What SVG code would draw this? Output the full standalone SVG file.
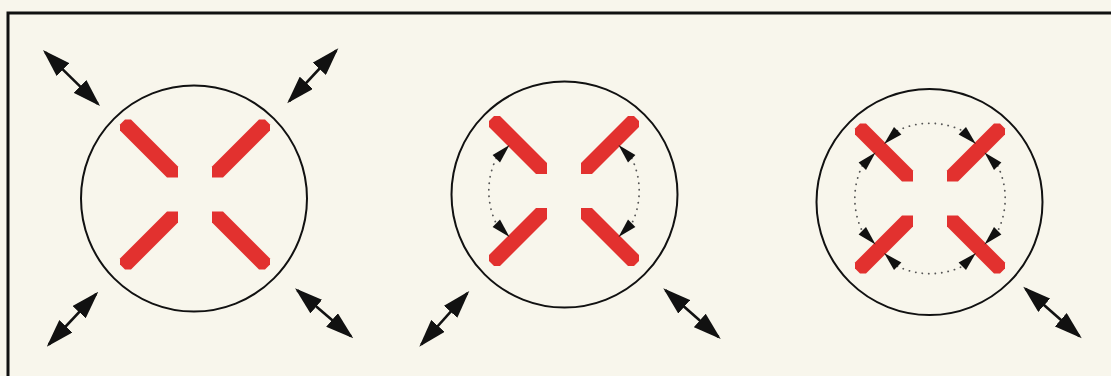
<svg xmlns="http://www.w3.org/2000/svg" width="1111" height="376" viewBox="0 0 1111 376">
<defs>
<style>
.ring{fill:none;stroke:#111;stroke-width:2}
.bars{fill:#e2312f}
.wedges{fill:#111}
.dots{fill:none;stroke:#555;stroke-width:1.8;stroke-linecap:round;stroke-dasharray:0.1 6.4}
.shaft{stroke:#111;stroke-width:2.6;fill:none;marker-start:url(#head);marker-end:url(#head)}
</style>
<marker id="head" viewBox="0 0 28 18" refX="25" refY="9" markerWidth="28" markerHeight="18" markerUnits="userSpaceOnUse" orient="auto-start-reverse"><path d="M0,0 L28,9 L0,18 Z" fill="#111"/></marker>
<polygon id="bar" points="-75,-64 -75,-70 -70,-75 -64,-75 -17,-28 -17,-17 -28,-17"/>
<polygon id="wA" points="-54.5,-45.9 -71.4,-36 -64,-28.6"/>
<polygon id="wB" points="-45.9,-54.5 -36,-71.4 -28.6,-64"/>
<g id="cross" class="bars">
<use href="#bar"/><use href="#bar" transform="scale(-1,1)"/><use href="#bar" transform="scale(1,-1)"/><use href="#bar" transform="scale(-1,-1)"/>
</g>
<g id="wedgesA" class="wedges">
<use href="#wA"/><use href="#wA" transform="scale(-1,1)"/><use href="#wA" transform="scale(1,-1)"/><use href="#wA" transform="scale(-1,-1)"/>
</g>
<g id="wedgesB" class="wedges">
<use href="#wB"/><use href="#wB" transform="scale(-1,1)"/><use href="#wB" transform="scale(1,-1)"/><use href="#wB" transform="scale(-1,-1)"/>
</g>
</defs>
<rect x="0" y="0" width="1111" height="376" fill="#f8f6ec"/>
<path d="M8,376 V13 H1111" fill="none" stroke="#111" stroke-width="3"/>

<g id="stage1">
<circle class="ring" cx="194" cy="198.5" r="113"/>
<g transform="translate(195,194.5)"><use href="#cross"/></g>
</g>

<g id="stage2">
<circle class="ring" cx="564.5" cy="194.5" r="113"/>
<g transform="translate(564,191)">
<path class="dots" d="M-67.7,-32.7 A75.2,75.2 0 0 0 -67.7,32.7 M67.7,-32.7 A75.2,75.2 0 0 1 67.7,32.7"/>
<use href="#cross"/>
<use href="#wedgesA"/>
</g>
</g>

<g id="stage3">
<circle class="ring" cx="929.5" cy="202" r="113"/>
<g transform="translate(930,198.5)">
<path class="dots" d="M-67.7,-32.7 A75.2,75.2 0 0 0 -67.7,32.7 M67.7,-32.7 A75.2,75.2 0 0 1 67.7,32.7 M-32.7,-67.7 A75.2,75.2 0 0 1 32.7,-67.7 M-32.7,67.7 A75.2,75.2 0 0 0 32.7,67.7"/>
<use href="#cross"/>
<use href="#wedgesA"/>
<use href="#wedgesB"/>
</g>
</g>

<g id="arrows">
<line class="shaft" x1="45.1" y1="52.1" x2="97.9" y2="103.9"/>
<line class="shaft" x1="336.3" y1="50.5" x2="289.3" y2="101.1"/>
<line class="shaft" x1="96.2" y1="293.9" x2="48.8" y2="344.5"/>
<line class="shaft" x1="297.3" y1="290.3" x2="351" y2="336.3"/>
<line class="shaft" x1="467.3" y1="293.2" x2="421.3" y2="344.5"/>
<line class="shaft" x1="665.5" y1="290.3" x2="718.5" y2="337"/>
<line class="shaft" x1="1025.5" y1="288.7" x2="1079.5" y2="336.3"/>
</g>
</svg>
